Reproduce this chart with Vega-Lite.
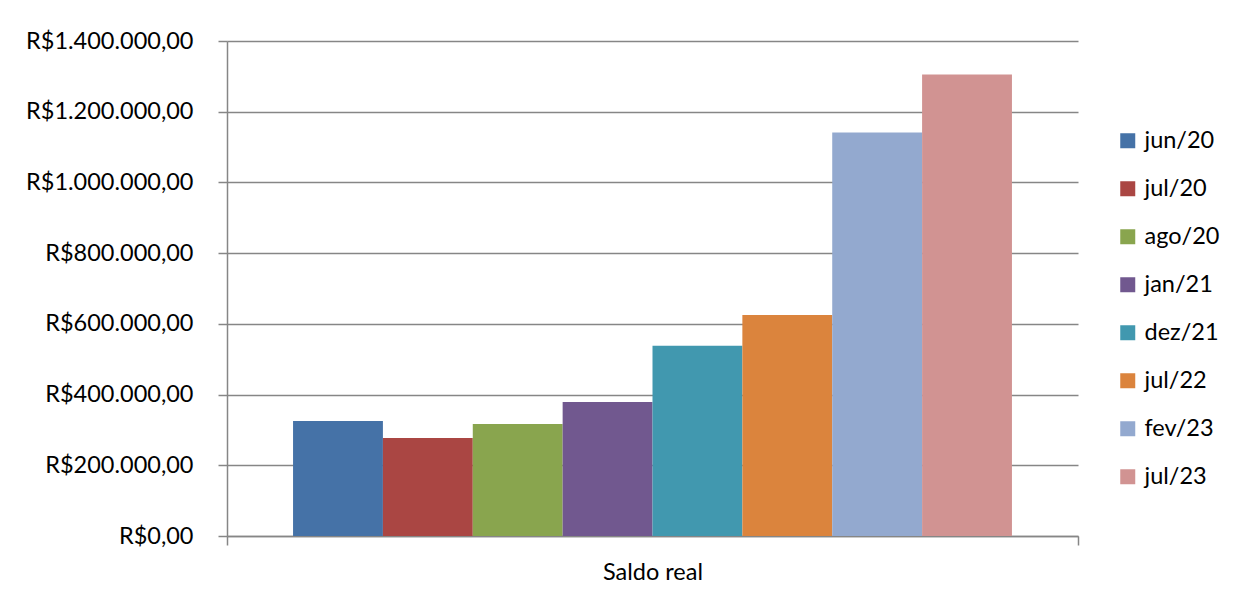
{
  "$schema": "https://vega.github.io/schema/vega-lite/v6.json",
  "width": 851,
  "height": 495,
  "autosize": "none",
  "padding": {"left": 227, "top": 41, "right": 155, "bottom": 59},
  "background": "white",
  "data": {
    "values": [
      {"categoria": "Saldo real", "periodo": "jun/20", "valor": 325000},
      {"categoria": "Saldo real", "periodo": "jul/20", "valor": 277000},
      {"categoria": "Saldo real", "periodo": "ago/20", "valor": 317000},
      {"categoria": "Saldo real", "periodo": "jan/21", "valor": 379000},
      {"categoria": "Saldo real", "periodo": "dez/21", "valor": 538000},
      {"categoria": "Saldo real", "periodo": "jul/22", "valor": 625000},
      {"categoria": "Saldo real", "periodo": "fev/23", "valor": 1141000},
      {"categoria": "Saldo real", "periodo": "jul/23", "valor": 1305000}
    ]
  },
  "mark": {"type": "bar"},
  "encoding": {
    "x": {
      "field": "categoria",
      "type": "nominal",
      "scale": {"paddingInner": 0, "paddingOuter": 0},
      "axis": {
        "title": null,
        "labelAngle": 0,
        "tickBand": "extent",
        "domainColor": "#868686",
        "domainWidth": 1.5,
        "tickColor": "#868686",
        "tickWidth": 1.5,
        "tickSize": 9,
        "labelPadding": 15,
        "labelFontSize": 23.5,
        "labelFont": "Lato",
        "labelColor": "#000000",
        "grid": false
      }
    },
    "xOffset": {
      "field": "periodo",
      "type": "nominal",
      "sort": ["jun/20", "jul/20", "ago/20", "jan/21", "dez/21", "jul/22", "fev/23", "jul/23"],
      "scale": {"paddingInner": 0, "paddingOuter": 0.735}
    },
    "y": {
      "field": "valor",
      "type": "quantitative",
      "scale": {"domain": [0, 1400000], "nice": false, "zero": true},
      "axis": {
        "title": null,
        "values": [0, 200000, 400000, 600000, 800000, 1000000, 1200000, 1400000],
        "format": "$,.2f",
        "domainColor": "#868686",
        "domainWidth": 1.5,
        "tickColor": "#868686",
        "tickWidth": 1.5,
        "tickSize": 9,
        "labelPadding": 25,
        "labelFontSize": 23.5,
        "labelFont": "Lato",
        "labelColor": "#000000",
        "labelBaseline": "middle",
        "gridColor": "#868686",
        "gridWidth": 1.5
      }
    },
    "color": {
      "field": "periodo",
      "type": "nominal",
      "sort": ["jun/20", "jul/20", "ago/20", "jan/21", "dez/21", "jul/22", "fev/23", "jul/23"],
      "scale": {
        "domain": ["jun/20", "jul/20", "ago/20", "jan/21", "dez/21", "jul/22", "fev/23", "jul/23"],
        "range": ["#4572A7", "#AA4643", "#89A54E", "#71588F", "#4198AF", "#DB843D", "#93A9CF", "#D19392"]
      },
      "legend": {
        "title": null,
        "orient": "none",
        "legendX": 889,
        "legendY": 88,
        "symbolType": "square",
        "symbolSize": 225,
        "symbolStrokeWidth": 0,
        "symbolOpacity": 1,
        "labelFontSize": 23.5,
        "labelFont": "Lato",
        "labelColor": "#000000",
        "labelOffset": 5,
        "rowPadding": 23
      }
    }
  },
  "config": {
    "view": {"stroke": null},
    "locale": {
      "number": {
        "decimal": ",",
        "thousands": ".",
        "grouping": [3],
        "currency": ["R$", ""]
      }
    }
  }
}
